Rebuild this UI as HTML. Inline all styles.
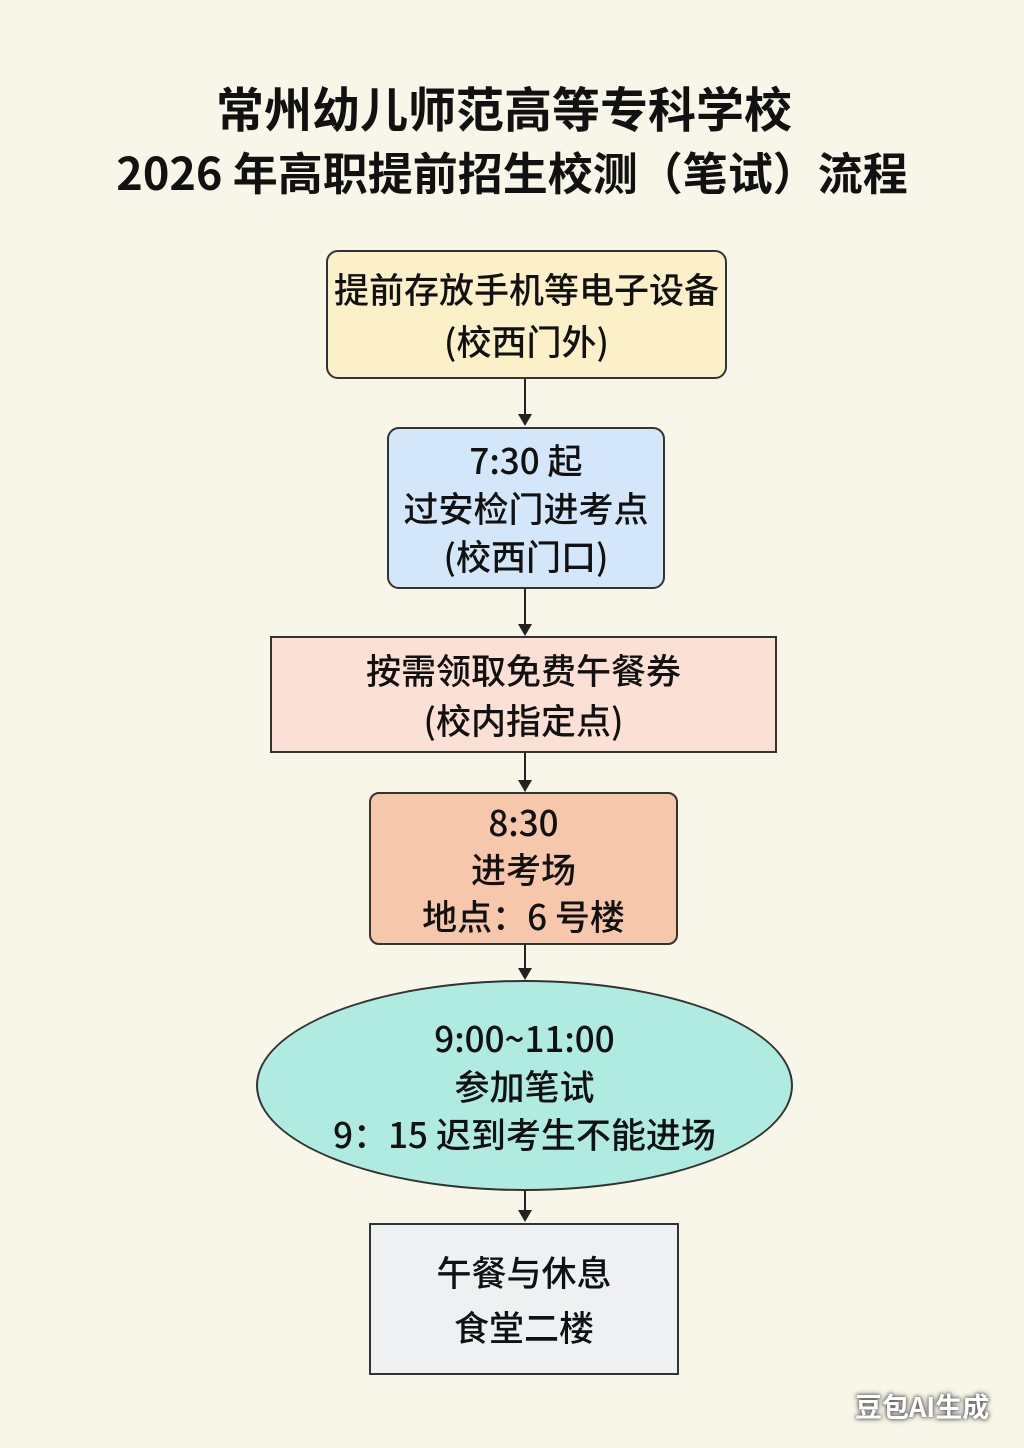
<!DOCTYPE html>
<html><head><meta charset="utf-8"><style>
body{margin:0;width:1024px;height:1448px;background:#f8f6e8;position:relative;overflow:hidden;font-family:"Noto Sans CJK SC","Liberation Sans",sans-serif;color:#111}
.t{position:absolute;left:0;width:1024px;text-align:center;font-weight:bold;font-size:48px;line-height:1;font-family:"Noto Sans CJK SC","Liberation Sans",sans-serif}
.b{position:absolute;box-sizing:border-box;border:2.5px solid #333;display:flex;flex-direction:column;justify-content:center;align-items:center;font-size:35px;font-weight:500;font-family:"Noto Sans CJK SC","Liberation Sans",sans-serif;text-align:center;white-space:nowrap}
.a{position:absolute;left:524px;width:2px;background:#222}
.h{position:absolute;left:518px;width:0;height:0;border-left:7px solid transparent;border-right:7px solid transparent;border-top:12px solid #222}
</style></head><body>
<div class="t" style="top:82px;left:-8px">常州幼儿师范高等专科学校</div>
<div class="t" style="top:148px;left:0px;font-size:45px">2026 年高职提前招生校测（笔试）流程</div>

<div class="b" style="left:326px;top:250px;width:401px;height:129px;border-radius:12px;background:#fbf0c8;line-height:52px">提前存放手机等电子设备<br>(校西门外)</div>
<div class="a" style="top:379px;height:36px"></div><div class="h" style="top:414px"></div>

<div class="b" style="left:387px;top:427px;width:278px;height:162px;border-radius:12px;background:#d4e6f9;line-height:48px">7:30 起<br>过安检门进考点<br>(校西门口)</div>
<div class="a" style="top:589px;height:36px"></div><div class="h" style="top:624px"></div>

<div class="b" style="left:270px;top:636px;width:507px;height:117px;background:#fbe0d5;line-height:50px">按需领取免费午餐券<br>(校内指定点)</div>
<div class="a" style="top:753px;height:28px"></div><div class="h" style="top:780px"></div>

<div class="b" style="left:369px;top:792px;width:309px;height:153px;border-radius:10px;background:#f7c7ab;line-height:47px">8:30<br>进考场<br>地点：6 号楼</div>
<div class="a" style="top:945px;height:24px"></div><div class="h" style="top:968px"></div>

<div class="b" style="left:256px;top:980px;width:537px;height:211px;border-radius:50%;background:#b0ebe1;line-height:48px">9:00~11:00<br>参加笔试<br>9：15 迟到考生不能进场</div>
<div class="a" style="top:1191px;height:20px"></div><div class="h" style="top:1210px"></div>

<div class="b" style="left:369px;top:1223px;width:310px;height:152px;background:#eef0f2;line-height:55px">午餐与休息<br>食堂二楼</div>

<div style="position:absolute;left:855px;top:1386px;font-size:27px;font-weight:bold;color:#fff;text-shadow:0 0 6px #555,0 0 3px #555;font-family:'Noto Sans CJK SC',sans-serif">豆包AI生成</div>
</body></html>
